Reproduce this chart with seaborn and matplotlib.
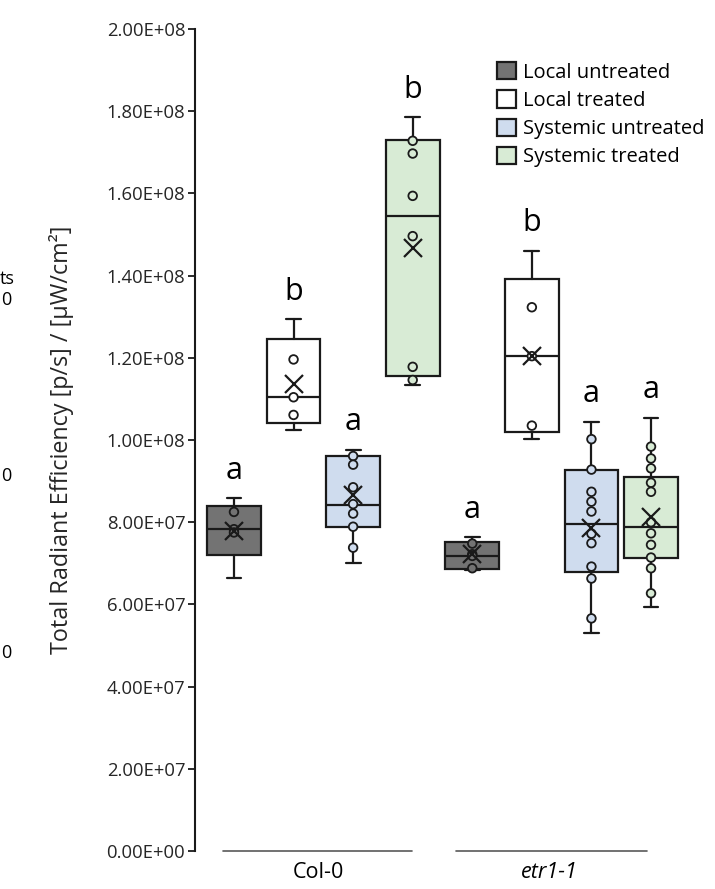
import matplotlib
matplotlib.use("Agg")
import matplotlib.pyplot as plt
from matplotlib.patches import Patch
from matplotlib.ticker import FuncFormatter, MultipleLocator
from matplotlib.transforms import blended_transform_factory
import numpy as np
import pandas as pd
import seaborn as sns

# ---- data -----------------------------------------------------------------
genotypes = ["Col-0", "etr1-1"]
treatments = ["Local untreated", "Local treated", "Systemic untreated", "Systemic treated"]
fills = ["#737373", "#ffffff", "#cfdcee", "#d8ebd5"]

# box summaries, one entry per box (Col-0 x 4 treatments, then etr1-1 x 4)
whisker_low = [6.65e7, 1.024e8, 7.00e7, 1.135e8, 6.84e7, 1.002e8, 5.30e7, 5.94e7]
quartile_1 = [7.20e7, 1.042e8, 7.89e7, 1.155e8, 6.86e7, 1.019e8, 6.78e7, 7.14e7]
medians = [7.83e7, 1.104e8, 8.42e7, 1.545e8, 7.18e7, 1.204e8, 7.96e7, 7.88e7]
quartile_3 = [8.40e7, 1.246e8, 9.62e7, 1.731e8, 7.52e7, 1.392e8, 9.28e7, 9.09e7]
whisker_high = [8.59e7, 1.294e8, 9.76e7, 1.785e8, 7.63e7, 1.460e8, 1.045e8, 1.054e8]
means = [7.79e7, 1.136e8, 8.66e7, 1.466e8, 7.22e7, 1.204e8, 7.85e7, 8.13e7]

# inner data points of each box
col0_local_untreated = [8.25e7, 7.83e7, 7.75e7]
col0_local_treated = [1.196e8, 1.104e8, 1.061e8]
col0_systemic_untreated = [9.61e7, 9.40e7, 8.85e7, 8.44e7, 8.21e7, 7.89e7, 7.38e7]
col0_systemic_treated = [1.728e8, 1.697e8, 1.594e8, 1.496e8, 1.178e8, 1.146e8]
etr_local_untreated = [7.48e7, 7.22e7, 7.18e7, 6.88e7]
etr_local_treated = [1.323e8, 1.204e8, 1.035e8]
etr_systemic_untreated = [1.002e8, 9.28e7, 8.74e7, 8.50e7, 8.26e7, 7.72e7,
                          7.49e7, 6.92e7, 6.63e7, 5.66e7]
etr_systemic_treated = [9.84e7, 9.55e7, 9.31e7, 8.96e7, 8.74e7, 8.00e7,
                        7.73e7, 7.45e7, 7.14e7, 6.88e7, 6.27e7]

letters = ["a", "b", "a", "b", "a", "b", "a", "a"]

# ---- assemble a long table --------------------------------------------------
point_sets = [col0_local_untreated, col0_local_treated, col0_systemic_untreated,
              col0_systemic_treated, etr_local_untreated, etr_local_treated,
              etr_systemic_untreated, etr_systemic_treated]
slots = [f"{g} | {t}" for g in genotypes for t in treatments]
rows = []
for slot, pts in zip(slots, point_sets):
    g, t = slot.split(" | ")
    for v in pts:
        rows.append({"slot": slot, "genotype": g, "treatment": t, "value": v})
df = pd.DataFrame(rows)

# ---- figure ----------------------------------------------------------------
sns.set_style("ticks")
plt.rcParams["font.family"] = ["Open Sans", "DejaVu Sans"]
plt.rcParams["text.color"] = "black"

fig = plt.figure(figsize=(7.15, 8.89), dpi=100)
ax = fig.add_axes([195 / 715, 38 / 889, 515 / 715, 822 / 889])

lw = 1.6
stats = []
for i in range(len(slots)):
    stats.append(dict(whislo=whisker_low[i], q1=quartile_1[i], med=medians[i],
                      q3=quartile_3[i], whishi=whisker_high[i], mean=means[i],
                      fliers=[]))
positions = np.arange(len(slots))
bp = ax.bxp(stats, positions=positions, widths=0.9, capwidths=0.25,
            patch_artist=True, showmeans=True, manage_ticks=False,
            boxprops=dict(linewidth=lw, edgecolor="#1a1a1a"),
            whiskerprops=dict(linewidth=lw, color="#1a1a1a"),
            capprops=dict(linewidth=lw, color="#1a1a1a"),
            medianprops=dict(linewidth=lw, color="#1a1a1a"),
            meanprops=dict(marker="x", markeredgecolor="#1a1a1a",
                           markersize=13, markeredgewidth=1.6, zorder=6))
for k, patch in enumerate(bp["boxes"]):
    patch.set_facecolor(fills[k % 4])
    patch.set_zorder(2)

sns.stripplot(data=df, x="slot", y="value", hue="treatment", order=slots,
              hue_order=treatments, palette=fills, jitter=False, dodge=False,
              size=6.2, edgecolor="#1a1a1a", linewidth=1.3, legend=False,
              zorder=4, ax=ax)

# significance letters
for k in range(len(slots)):
    ax.annotate(letters[k], xy=(positions[k], whisker_high[k]),
                xytext=(0, 14), textcoords="offset points",
                ha="center", va="baseline", fontsize=22)

# axes styling
ax.set_xlim(-0.654, 7.99)
ax.set_ylim(0, 2.0e8)
ax.yaxis.set_major_locator(MultipleLocator(2e7))
ax.yaxis.set_major_formatter(FuncFormatter(lambda v, _: f"{v:.2E}"))
ax.set_xticks([])
ax.set_xlabel("")
for side in ["top", "right", "bottom"]:
    ax.spines[side].set_visible(False)
ax.spines["left"].set_linewidth(1.5)
ax.spines["left"].set_color("#1a1a1a")
ax.tick_params(axis="y", direction="out", length=5, width=1.3,
               color="#1a1a1a", labelsize=13.3, pad=2)
ax.set_ylabel("Total Radiant Efficiency [p/s] / [µW/cm²]", fontsize=16.8)
ax.yaxis.set_label_coords(-0.235, 0.5)

# genotype lines and labels under the boxes
spans = [(-0.185, 2.99), (3.72, 6.93)]
label_x = [1.41, 5.30]
trans = blended_transform_factory(ax.transData, fig.transFigure)
for (x0, x1), lx, name in zip(spans, label_x, genotypes):
    ax.plot([x0, x1], [0, 0], color="#595959", linewidth=1.2, clip_on=False)
    ax.text(lx, 1 - 873 / 889, name, transform=trans, ha="center", va="center",
            fontsize=15.5, style="italic" if name != "Col-0" else "normal")

# legend
handles = [Patch(facecolor=c, edgecolor="#1a1a1a", linewidth=1.6) for c in fills]
fig.legend(handles, treatments, loc="upper left",
           bbox_to_anchor=(487 / 715, 1 - 52 / 889), frameon=False,
           fontsize=14.5, handlelength=0.95, handleheight=0.95,
           handletextpad=0.35, labelspacing=0.38, borderpad=0)

# edge of the neighbouring panel
fig.text(0.0, 1 - 279 / 889, "ts", ha="left", va="center", fontsize=13)
for yy in [300, 476, 653]:
    fig.text(0.001, 1 - yy / 889, "0", ha="left", va="center", fontsize=13)

fig.savefig("out.png", dpi=100)
